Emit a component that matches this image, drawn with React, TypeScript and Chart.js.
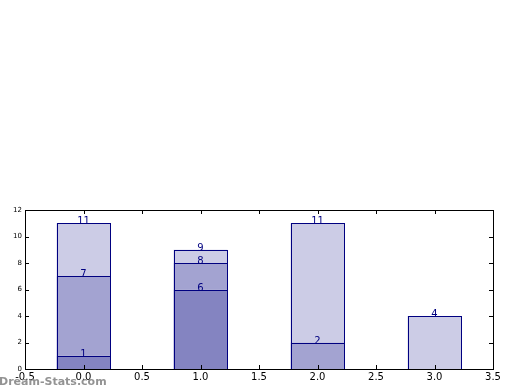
import React, { useEffect, useRef } from "react";
import { Chart, registerables } from "chart.js";

Chart.register(...registerables);

const positions = [0, 1, 2, 3];
const darkValues: (number | null)[] = [1, 6, null, null];
const mediumValues: (number | null)[] = [6, 2, 2, null];
const lightValues: (number | null)[] = [4, 1, 9, 4];
const xTickValues = [-0.5, 0, 0.5, 1, 1.5, 2, 2.5, 3, 3.5];
const yTickValues = [0, 2, 4, 6, 8, 10, 12];
const watermark = "Dream-Stats.com";

const NAVY = "#000080";
const FONT = "'DejaVu Sans', sans-serif";

const toPoints = (vals: (number | null)[]) =>
  positions
    .map((x, i) => ({ x, y: vals[i] }))
    .filter((p) => p.y != null);

const decorPlugin = {
  id: "decor",
  afterDatasetsDraw(chart: any) {
    const ctx = chart.ctx;
    const ds = chart.data.datasets;
    ctx.save();
    ctx.strokeStyle = NAVY;
    ctx.lineWidth = 1;
    for (let i = 0; i < ds.length; i++) {
      const meta = chart.getDatasetMeta(i);
      for (const el of meta.data) {
        const x0 = Math.round(el.x - el.width / 2);
        const x1 = Math.round(el.x + el.width / 2);
        const yT = Math.round(el.y);
        const yB = Math.round(el.base);
        ctx.strokeRect(x0 + 0.5, yT + 0.5, x1 - x0, yB - yT);
      }
    }
    ctx.fillStyle = NAVY;
    ctx.font = `10px ${FONT}`;
    ctx.textAlign = "center";
    ctx.textBaseline = "alphabetic";
    for (const x of positions) {
      let cum = 0;
      for (let i = 0; i < ds.length; i++) {
        const k = ds[i].data.findIndex((p: any) => p.x === x);
        if (k < 0) continue;
        cum += ds[i].data[k].y;
        const el = chart.getDatasetMeta(i).data[k];
        ctx.fillText(String(cum), el.x, el.y + 1);
      }
    }
    ctx.restore();
  },
  afterDraw(chart: any) {
    const ctx = chart.ctx;
    const { left, right, top, bottom } = chart.chartArea;
    const xs = chart.scales.x;
    const ys = chart.scales.y;
    ctx.save();
    ctx.strokeStyle = "#000";
    ctx.lineWidth = 1;
    ctx.beginPath();
    for (const v of xTickValues) {
      const px = Math.round(xs.getPixelForValue(v)) + 0.5;
      ctx.moveTo(px, bottom);
      ctx.lineTo(px, bottom - 4);
      ctx.moveTo(px, top);
      ctx.lineTo(px, top + 4);
    }
    for (const v of yTickValues) {
      const py = Math.round(ys.getPixelForValue(v)) + 0.5;
      ctx.moveTo(left, py);
      ctx.lineTo(left + 4, py);
      ctx.moveTo(right, py);
      ctx.lineTo(right - 4, py);
    }
    ctx.stroke();
    ctx.strokeRect(Math.round(left) + 0.5, Math.round(top) + 0.5, Math.round(right - left), Math.round(bottom - top));
    ctx.fillStyle = "rgba(128,128,128,0.85)";
    ctx.font = `bold 11px ${FONT}`;
    ctx.textAlign = "left";
    ctx.textBaseline = "alphabetic";
    ctx.fillText(watermark, -1, 385);
    ctx.restore();
  },
};

export default function App() {
  const ref = useRef<HTMLCanvasElement>(null);
  useEffect(() => {
    if (!ref.current) return;
    const common = {
      borderWidth: 0,
      barPercentage: 0.92,
      categoryPercentage: 1,
    };
    const chart = new Chart(ref.current, {
      type: "bar",
      data: {
        datasets: [
          { ...common, label: "a", data: toPoints(darkValues), backgroundColor: "#8484c1" },
          { ...common, label: "b", data: toPoints(mediumValues), backgroundColor: "#a3a3d1" },
          { ...common, label: "c", data: toPoints(lightValues), backgroundColor: "#cccce6" },
        ] as any,
      },
      options: {
        animation: false,
        responsive: false,
        events: [],
        layout: { padding: { top: 210, right: 27, left: 0, bottom: 0 } },
        plugins: { legend: { display: false }, tooltip: { enabled: false } },
        scales: {
          x: {
            type: "linear",
            stacked: true,
            offset: false,
            min: -0.5,
            max: 3.5,
            grid: { display: false, drawTicks: false },
            border: { display: false },
            afterFit: (s: any) => { s.height = 21; },
            afterBuildTicks: (s: any) => { s.ticks = xTickValues.map((v) => ({ value: v })); },
            ticks: {
              padding: 2,
              color: "#000",
              font: { family: FONT, size: 10 },
              maxRotation: 0,
              autoSkip: false,
              callback: (v: any) => Number(v).toFixed(1),
            },
          },
          y: {
            stacked: true,
            min: 0,
            max: 12,
            grid: { display: false, drawTicks: false },
            border: { display: false },
            afterFit: (s: any) => { s.width = 25; },
            afterBuildTicks: (s: any) => { s.ticks = yTickValues.map((v) => ({ value: v })); },
            ticks: {
              padding: 3,
              color: "#000",
              font: { family: FONT, size: 7 },
              callback: (v: any) => String(v),
            },
          },
        },
      } as any,
      plugins: [decorPlugin],
    });
    return () => chart.destroy();
  }, []);
  return (
    <div style={{ position: "fixed", left: 0, top: 0, width: 520, height: 390, background: "#fff" }}>
      <canvas ref={ref} width={520} height={390} style={{ display: "block" }} />
    </div>
  );
}
